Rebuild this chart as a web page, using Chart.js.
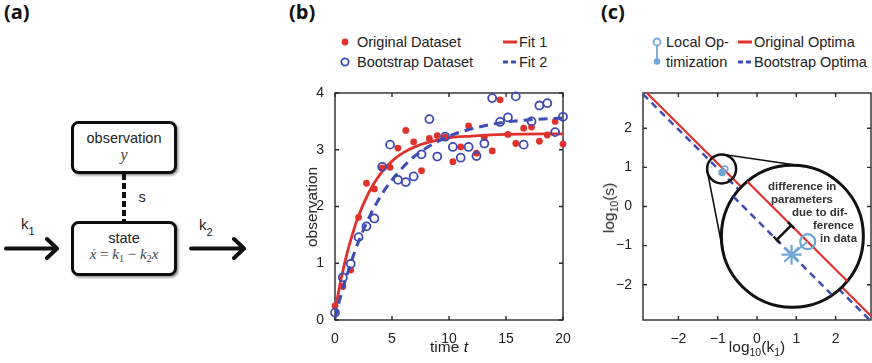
<!DOCTYPE html>
<html>
<head>
<meta charset="utf-8">
<title>Bootstrap fits and parameter optima</title>
<script src="https://cdn.jsdelivr.net/npm/chart.js@4.4.1/dist/chart.umd.min.js"></script>
<style>
  body { margin: 0; background: #fff; }
  #page { position: relative; width: 872px; height: 363px; overflow: hidden; font-family: 'Liberation Sans', Arial, sans-serif; color: #222; }
  .abs { position: absolute; white-space: nowrap; }
  .panel-label { font-family: 'Open Sans', sans-serif; font-weight: 700; font-size: 20px; top: -2px; color: #111; }
  .legend { font-size: 14.5px; line-height: 20px; }
  .axis-title { font-size: 15.5px; }
  .axis-title sub { font-size: 10.5px; vertical-align: -4px; line-height: 0; }
  .note { font-weight: 700; font-size: 11.5px; color: #333; }
  canvas { position: absolute; }
</style>
</head>
<body>
<div id="page">
  <!-- (a) model diagram -->
  <svg class="abs" style="left:0;top:0" width="290" height="363">
    <defs>
      <filter id="shadow" x="-20%" y="-20%" width="140%" height="140%">
        <feDropShadow dx="1.5" dy="1.5" stdDeviation="1.2" flood-color="#000" flood-opacity="0.45"/>
      </filter>
    </defs>
    <rect x="72.5" y="122.5" width="103" height="50" rx="6" fill="#fff" stroke="#111" stroke-width="3" filter="url(#shadow)"/>
    <rect x="72.5" y="222.5" width="103" height="52" rx="6" fill="#fff" stroke="#111" stroke-width="3" filter="url(#shadow)"/>
    <line x1="124" y1="174" x2="124" y2="221" stroke="#111" stroke-width="4" stroke-dasharray="6 3"/>
    <g font-family="Liberation Sans, Arial, sans-serif" font-size="14.5" fill="#222" text-anchor="middle">
      <text x="124" y="143">observation</text>
      <text x="124" y="243">state</text>
      <text x="142" y="202">s</text>
    </g>
    <text x="124" y="160" text-anchor="middle" font-family="Liberation Serif, serif" font-style="italic" font-size="16" fill="#444">y</text>
    <text x="124" y="259" text-anchor="middle" font-family="Liberation Serif, serif" font-size="15" fill="#444"><tspan font-style="italic">ẋ</tspan> = <tspan font-style="italic">k</tspan><tspan font-size="10" dy="3">1</tspan><tspan dy="-3"> − </tspan><tspan font-style="italic">k</tspan><tspan font-size="10" dy="3">2</tspan><tspan font-style="italic" dy="-3">x</tspan></text>
    <g stroke="#111" stroke-width="4" fill="none" stroke-linecap="round" stroke-linejoin="round">
      <path d="M6 248.5 H56 M47 239 L57 248.5 L47 258"/>
      <path d="M191 248.5 H243 M234 239 L244 248.5 L234 258"/>
    </g>
    <g font-family="Liberation Sans, Arial, sans-serif" fill="#222">
      <text x="21" y="229" font-size="15">k<tspan font-size="11" dy="6">1</tspan></text>
      <text x="199" y="230" font-size="15">k<tspan font-size="11" dy="6">2</tspan></text>
    </g>
  </svg>
  <div class="abs panel-label" style="left:4px">(a)</div>
  <div class="abs panel-label" style="left:289px">(b)</div>
  <div class="abs panel-label" style="left:601px">(c)</div>

  <!-- (b) legend -->
  <svg class="abs" style="left:338px;top:32px" width="190" height="40">
    <circle cx="7" cy="10" r="3.4" fill="#e0322b"/>
    <circle cx="7" cy="30" r="3.6" fill="none" stroke="#3d4bb3" stroke-width="1.8"/>
    <line x1="165" y1="10" x2="179" y2="10" stroke="#e0322b" stroke-width="3"/>
    <line x1="165" y1="30" x2="179" y2="30" stroke="#3d4bb3" stroke-width="3" stroke-dasharray="5 3"/>
  </svg>
  <div class="abs legend" style="left:357px;top:32px">Original Dataset</div>
  <div class="abs legend" style="left:357px;top:52px">Bootstrap Dataset</div>
  <div class="abs legend" style="left:519px;top:32px">Fit 1</div>
  <div class="abs legend" style="left:519px;top:52px">Fit 2</div>

  <!-- (c) legend -->
  <svg class="abs" style="left:650px;top:32px" width="110" height="40">
    <line x1="7" y1="10" x2="7" y2="29" stroke="#6fa6d6" stroke-width="1.8"/>
    <circle cx="7" cy="10" r="3.5" fill="#fff" stroke="#6fa6d6" stroke-width="1.8"/>
    <circle cx="7" cy="29.5" r="3.3" fill="#6fa6d6"/>
    <line x1="88" y1="10" x2="102" y2="10" stroke="#e0322b" stroke-width="3"/>
    <line x1="88" y1="30" x2="102" y2="30" stroke="#3d4bb3" stroke-width="3" stroke-dasharray="5 3"/>
  </svg>
  <div class="abs legend" style="left:666px;top:32px">Local Op-</div>
  <div class="abs legend" style="left:666px;top:52px">timization</div>
  <div class="abs legend" style="left:754px;top:32px">Original Optima</div>
  <div class="abs legend" style="left:754px;top:52px">Bootstrap Optima</div>

  <canvas id="fitChart" width="290" height="283" style="left:290px;top:80px"></canvas>
  <canvas id="optChart" width="272" height="283" style="left:600px;top:80px"></canvas>

  <!-- axis titles -->
  <div class="abs axis-title" style="left:312px;top:207px;transform:translate(-50%,-50%) rotate(-90deg)">observation</div>
  <div class="abs axis-title" style="left:449px;top:347px;transform:translate(-50%,-50%)">time <i>t</i></div>
  <div class="abs axis-title" style="left:609px;top:208px;transform:translate(-50%,-50%) rotate(-90deg)">log<sub>10</sub>(s)</div>
  <div class="abs axis-title" style="left:757px;top:347px;transform:translate(-50%,-50%)">log<sub>10</sub>(k<sub>1</sub>)</div>

  <div class="abs note" style="left:768px;top:180px">difference in</div>
  <div class="abs note" style="left:771px;top:193px">parameters</div>
  <div class="abs note" style="left:792px;top:206px">due to dif-</div>
  <div class="abs note" style="left:813px;top:219px">ference</div>
  <div class="abs note" style="left:820px;top:232px">in data</div>
</div>

<script>
const RED = '#e0322b';
const BLUE = '#3d4bb3';
const LIGHT_BLUE = '#6fa6d6';
const FONT = "'Liberation Sans', Arial, sans-serif";

// (b) measurements and bootstrap resample
const sampleTimes = [0, 0.69, 1.38, 2.07, 2.76, 3.45, 4.14, 4.83, 5.52, 6.21, 6.9, 7.59, 8.28, 8.97, 9.66,
  10.34, 11.03, 11.72, 12.41, 13.1, 13.79, 14.48, 15.17, 15.86, 16.55, 17.24, 17.93, 18.62, 19.31, 20];
const originalData = [0.25, 0.59, 0.88, 1.81, 2.41, 2.31, 2.68, 2.69, 3.03, 3.34, 3.14, 2.63, 3.2, 3.25, 3.22,
  2.79, 3.05, 3.42, 2.94, 3.22, 2.98, 3.88, 3.27, 3.11, 3.38, 3.4, 3.15, 3.26, 3.5, 3.1];
const bootstrapData = [0.13, 0.75, 0.99, 1.46, 1.65, 1.79, 2.7, 3.09, 2.47, 2.43, 2.53, 2.92, 3.54, 2.88, 3.23,
  3.05, 2.86, 3.05, 2.89, 3.11, 3.91, 3.49, 3.57, 3.94, 3.09, 3.5, 3.78, 3.82, 3.31, 3.58];

// fitted trajectories
const fitTimes = [0, 0.5, 1, 1.5, 2, 3, 4, 5, 6, 7, 8, 10, 12, 15, 20];
const fit1 = [0.15, 0.69, 1.13, 1.49, 1.8, 2.26, 2.58, 2.8, 2.95, 3.05, 3.12, 3.21, 3.24, 3.27, 3.28];
const fit2 = [0.03, 0.42, 0.76, 1.07, 1.35, 1.81, 2.18, 2.47, 2.7, 2.89, 3.03, 3.24, 3.37, 3.49, 3.56];

const fitXTicks = [0, 5, 10, 15, 20];
const fitYTicks = [0, 1, 2, 3, 4];

// (c) lines of optima in log10(k1) / log10(s)
const optimaX = [-2.9, 2.9];
const originalOptima = [3.0, -2.8];
const bootstrapOptima = [2.87, -2.93];

// the same two lines as seen through the magnifier (chords of the big lens)
const lensOriginalX = [-0.25, 2.3];
const lensOriginalY = [0.64, -1.91];
const lensBootstrapX = [-0.6, 1.91];
const lensBootstrapY = [0.25, -2.26];

// local optimisation run: start (filled) -> end (open)
const localRunX = [-0.89, -0.82];
const localRunY = [0.87, 0.96];
// same run inside the magnifier: asterisk -> open circle
const zoomRunX = [0.88, 1.29];
const zoomRunY = [-1.23, -0.9];
// magnifier circles: source region and enlarged view
const lensX = [-0.9, 0.9];
const lensY = [0.96, -0.76];
// bracket marking the gap between the two optima lines
const gapX = [0.5, 0.87];
const gapY = [-0.85, -0.48];

const optTicks = [-2, -1, 0, 1, 2];

const pts = (xs, ys) => xs.map((x, i) => ({ x: x, y: ys[i] }));
const minus = v => (v < 0 ? '\u2212' + Math.abs(v) : String(v));

// box around the plot area with inward ticks on all four sides
const boxTicks = {
  id: 'boxTicks',
  beforeDatasetsDraw(chart) {
    const { ctx, chartArea: a, scales: { x, y } } = chart;
    const len = 4;
    ctx.save();
    ctx.strokeStyle = '#2a2a2a';
    ctx.lineWidth = 1.4;
    ctx.strokeRect(a.left, a.top, a.right - a.left, a.bottom - a.top);
    ctx.beginPath();
    x.ticks.forEach(t => {
      const px = x.getPixelForValue(t.value);
      ctx.moveTo(px, a.bottom); ctx.lineTo(px, a.bottom - len);
      ctx.moveTo(px, a.top); ctx.lineTo(px, a.top + len);
    });
    y.ticks.forEach(t => {
      const py = y.getPixelForValue(t.value);
      ctx.moveTo(a.left, py); ctx.lineTo(a.left + len, py);
      ctx.moveTo(a.right, py); ctx.lineTo(a.right - len, py);
    });
    ctx.stroke();
    ctx.restore();
  }
};

function axis(min, max, ticks, size, fmt) {
  return {
    type: 'linear',
    min: min,
    max: max,
    afterBuildTicks: scale => { scale.ticks = ticks.map(v => ({ value: v })); },
    afterFit: size,
    grid: { display: false },
    border: { display: false },
    ticks: {
      padding: 3,
      color: '#222',
      font: { size: 14, family: FONT },
      callback: fmt || (v => String(v))
    }
  };
}

const common = {
  responsive: false,
  animation: false,
  events: [],
  plugins: { legend: { display: false }, tooltip: { enabled: false } }
};

// (b) data and fits
new Chart(document.getElementById('fitChart'), {
  type: 'scatter',
  data: {
    datasets: [
      {
        label: 'Bootstrap Dataset',
        data: pts(sampleTimes, bootstrapData),
        pointRadius: 4,
        pointBorderWidth: 1.8,
        borderColor: BLUE,
        backgroundColor: 'rgba(0,0,0,0)',
        order: 0,
        clip: false
      },
      {
        label: 'Fit 2',
        data: pts(fitTimes, fit2),
        showLine: true,
        borderColor: BLUE,
        borderWidth: 3,
        borderDash: [9, 6],
        cubicInterpolationMode: 'monotone',
        pointRadius: 0,
        order: 1
      },
      {
        label: 'Fit 1',
        data: pts(fitTimes, fit1),
        showLine: true,
        borderColor: RED,
        borderWidth: 2.8,
        cubicInterpolationMode: 'monotone',
        pointRadius: 0,
        order: 2
      },
      {
        label: 'Original Dataset',
        data: pts(sampleTimes, originalData),
        pointRadius: 3.4,
        borderWidth: 0,
        backgroundColor: RED,
        order: 3,
        clip: false
      }
    ]
  },
  options: Object.assign({}, common, {
    layout: { autoPadding: false, padding: { left: 0, top: 13, right: 17, bottom: 0 } },
    scales: {
      x: axis(0, 20, fitXTicks, s => { s.height = 43; }),
      y: axis(0, 4, fitYTicks, s => { s.width = 45; })
    }
  }),
  plugins: [boxTicks]
});

// tangent lines joining the small lens to the enlarged view
const lensTangents = {
  id: 'lensTangents',
  afterDatasetsDraw(chart) {
    const meta = chart.getDatasetMeta(0);
    const radii = chart.data.datasets[0].pointRadius;
    const c1 = meta.data[0], c2 = meta.data[1];
    const r1 = radii[0], r2 = radii[1];
    const dx = c2.x - c1.x, dy = c2.y - c1.y;
    const d = Math.hypot(dx, dy);
    const theta = Math.atan2(dy, dx);
    const beta = Math.acos((r2 - r1) / d);
    const ctx = chart.ctx;
    ctx.save();
    ctx.strokeStyle = '#111';
    ctx.lineWidth = 1.6;
    ctx.beginPath();
    [theta + beta, theta - beta].forEach(phi => {
      const nx = Math.cos(phi), ny = Math.sin(phi);
      ctx.moveTo(c1.x - r1 * nx, c1.y - r1 * ny);
      ctx.lineTo(c2.x - r2 * nx, c2.y - r2 * ny);
    });
    ctx.stroke();
    ctx.restore();
  }
};

// (c) optima in parameter space
new Chart(document.getElementById('optChart'), {
  type: 'scatter',
  data: {
    datasets: [
      {
        // lens outlines; the big one is filled white so the enlarged view hides the lines behind it
        label: 'lens',
        data: pts(lensX, lensY),
        pointRadius: [14.5, 71],
        pointBorderWidth: [2.5, 3],
        borderColor: '#111',
        backgroundColor: ['rgba(0,0,0,0)', '#fff'],
        order: 3,
        clip: false
      },
      {
        label: 'gap',
        data: pts(gapX, gapY),
        showLine: true,
        borderColor: '#111',
        borderWidth: 2.5,
        pointStyle: 'line',
        pointRotation: 45,
        pointRadius: 4.5,
        pointBorderWidth: 2.5,
        order: 0
      },
      {
        label: 'Local Optimization',
        data: pts(localRunX, localRunY),
        showLine: true,
        borderColor: LIGHT_BLUE,
        borderWidth: 1.5,
        pointRadius: [3, 3],
        pointBorderWidth: 1.5,
        pointBackgroundColor: [LIGHT_BLUE, 'rgba(255,255,255,0)'],
        pointBorderColor: LIGHT_BLUE,
        order: 0
      },
      {
        label: 'Local Optimization (enlarged)',
        data: pts(zoomRunX, zoomRunY),
        showLine: true,
        borderColor: LIGHT_BLUE,
        borderWidth: 2,
        pointStyle: ['star', 'circle'],
        pointRadius: [10, 7.5],
        pointBorderWidth: 2.2,
        pointBackgroundColor: 'rgba(255,255,255,0)',
        pointBorderColor: LIGHT_BLUE,
        order: 0,
        clip: false
      },
      {
        label: 'Original Optima (enlarged)',
        data: pts(lensOriginalX, lensOriginalY),
        showLine: true,
        borderColor: RED,
        borderWidth: 2.2,
        pointRadius: 0,
        order: 1,
        clip: false
      },
      {
        label: 'Bootstrap Optima (enlarged)',
        data: pts(lensBootstrapX, lensBootstrapY),
        showLine: true,
        borderColor: BLUE,
        borderWidth: 2.5,
        borderDash: [7, 5],
        pointRadius: 0,
        order: 2,
        clip: false
      },
      {
        label: 'Original Optima',
        data: pts(optimaX, originalOptima),
        showLine: true,
        borderColor: RED,
        borderWidth: 2.2,
        pointRadius: 0,
        order: 4,
        clip: 0
      },
      {
        label: 'Bootstrap Optima',
        data: pts(optimaX, bootstrapOptima),
        showLine: true,
        borderColor: BLUE,
        borderWidth: 2.5,
        borderDash: [7, 5],
        pointRadius: 0,
        order: 5,
        clip: 0
      }
    ]
  },
  options: Object.assign({}, common, {
    layout: { autoPadding: false, padding: { left: 0, top: 13, right: 1, bottom: 0 } },
    scales: {
      x: axis(-2.9, 2.9, optTicks, s => { s.height = 43; }, minus),
      y: axis(-2.9, 2.9, optTicks, s => { s.width = 43; }, minus)
    }
  }),
  plugins: [boxTicks, lensTangents]
});
</script>
</body>
</html>
